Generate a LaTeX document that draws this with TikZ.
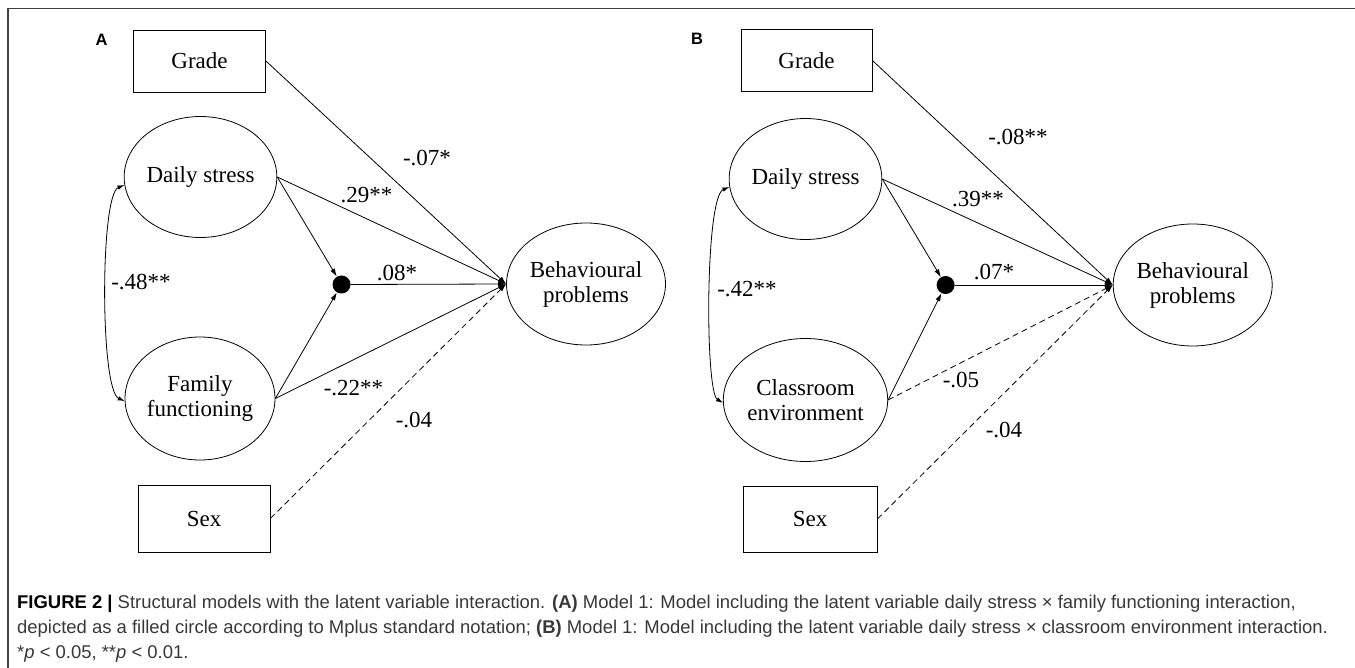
\documentclass[tikz,border=0pt]{standalone}
\usepackage{fontspec}
\setmainfont{Liberation Serif}
\newfontfamily\capfont{Liberation Sans}
\usetikzlibrary{shapes.geometric,arrows.meta}
\begin{document}
\begin{tikzpicture}[x=1pt,y=-1pt,
  every node/.style={font=\fontsize{23}{25}\selectfont},
  obsbox/.style={draw, rectangle, minimum width=132pt, minimum height=62pt, inner sep=0pt, line width=0.8pt},
  latent/.style={draw, ellipse, minimum width=141pt, minimum height=121pt, inner sep=0pt, align=center, line width=0.8pt},
  idot/.style={circle, fill=black, minimum size=18pt, inner sep=0pt},
  conn/.style={-{Latex[length=8pt,width=5pt]}, line width=0.8pt},
  dconn/.style={conn, dash pattern=on 6pt off 4pt},
  cov/.style={{Latex[length=7pt,width=4.5pt]}-{Latex[length=7pt,width=4.5pt]}, line width=0.8pt},
  coef/.style={inner sep=0pt},
  panellabel/.style={font=\capfont\bfseries\fontsize{16.5}{16.5}\selectfont, inner sep=0pt},
  captext/.style={font=\capfont\fontsize{18.45}{18.45}\selectfont, text=black!78, inner sep=0pt, anchor=base west},
  ]
\useasboundingbox (0,0) rectangle (1355,668);
\draw[line width=1.5pt, black!75] (8,668) -- (8,8.5) -- (1355,8.5);

% ---------- Panel A ----------
\node[panellabel] (labA) at (101.5,40) {A};
\node[obsbox] (gradeA) at (199.5,61) {Grade};
\node[latent] (dsA) at (200.5,177) {Daily stress};
\node[idot] (dotA) at (341.5,284.5) {};
\node[latent, minimum width=156pt, minimum height=122pt] (bpA) at (586,284) {Behavioural\\problems};
\node[latent, minimum height=123pt] (famA) at (200,398.5) {Family\\functioning};
\node[obsbox, minimum height=67pt] (sexA) at (204,518.5) {Sex};

\draw[conn] (gradeA.east) -- (bpA.west);
\draw[conn] (dsA.east) -- (bpA.west);
\draw[conn] (dsA.east) -- (dotA);
\draw[conn] (dotA.east) -- (bpA.west);
\draw[conn] (famA.east) -- (dotA);
\draw[conn] (famA.east) -- (bpA.west);
\draw[dconn] (sexA.east) -- (bpA.west);
\draw[cov] (dsA.186) .. controls (100,195) and (100,390) .. (famA.182);

\node[coef] (cA1) at (427,158) {-.07*};
\node[coef] (cA2) at (366.5,195) {.29**};
\node[coef] (cA3) at (397,273) {.08*};
\node[coef] (cA4) at (141,282) {-.48**};
\node[coef] (cA5) at (353.5,388) {-.22**};
\node[coef] (cA6) at (414,420) {-.04};

% ---------- Panel B ----------
\node[panellabel] (labB) at (697,39) {B};
\node[obsbox, minimum width=131pt] (gradeB) at (806.5,60.5) {Grade};
\node[latent] (dsB) at (805.5,179) {Daily stress};
\node[idot] (dotB) at (945.6,285) {};
\node[latent, minimum width=154pt, minimum height=122pt] (bpB) at (1192.7,285) {Behavioural\\problems};
\node[latent, minimum height=123pt] (clB) at (805.5,400) {Classroom\\environment};
\node[obsbox, minimum width=134pt, minimum height=66pt] (sexB) at (810,519) {Sex};

\draw[conn] (gradeB.east) -- (bpB.west);
\draw[conn] (dsB.east) -- (bpB.west);
\draw[conn] (dsB.east) -- (dotB);
\draw[conn] (dotB.east) -- (bpB.west);
\draw[conn] (clB.east) -- (dotB);
\draw[dconn] (clB.east) -- (bpB.west);
\draw[dconn] (sexB.east) -- (bpB.west);
\draw[cov] (dsB.186) .. controls (705,197) and (705,392) .. (clB.182);

\node[coef] (cB1) at (1018,137) {-.08**};
\node[coef] (cB2) at (978,199) {.39**};
\node[coef] (cB3) at (994,272) {.07*};
\node[coef] (cB4) at (747,289) {-.42**};
\node[coef] (cB5) at (961,380) {-.05};
\node[coef] (cB6) at (1004,430) {-.04};

% ---------- Caption ----------
\node[captext] (cap1) at (17,608) {\textbf{\color{black}FIGURE 2 |} Structural models with the latent variable interaction. \textbf{(A)} Model 1: Model including the latent variable daily stress × family functioning interaction,};
\node[captext] (cap2) at (17,633) {depicted as a filled circle according to Mplus standard notation; \textbf{(B)} Model 1: Model including the latent variable daily stress × classroom environment interaction.};
\node[captext] (cap3) at (17,658) {*\textit{p} < 0.05, **\textit{p} < 0.01.};
\end{tikzpicture}
\end{document}
